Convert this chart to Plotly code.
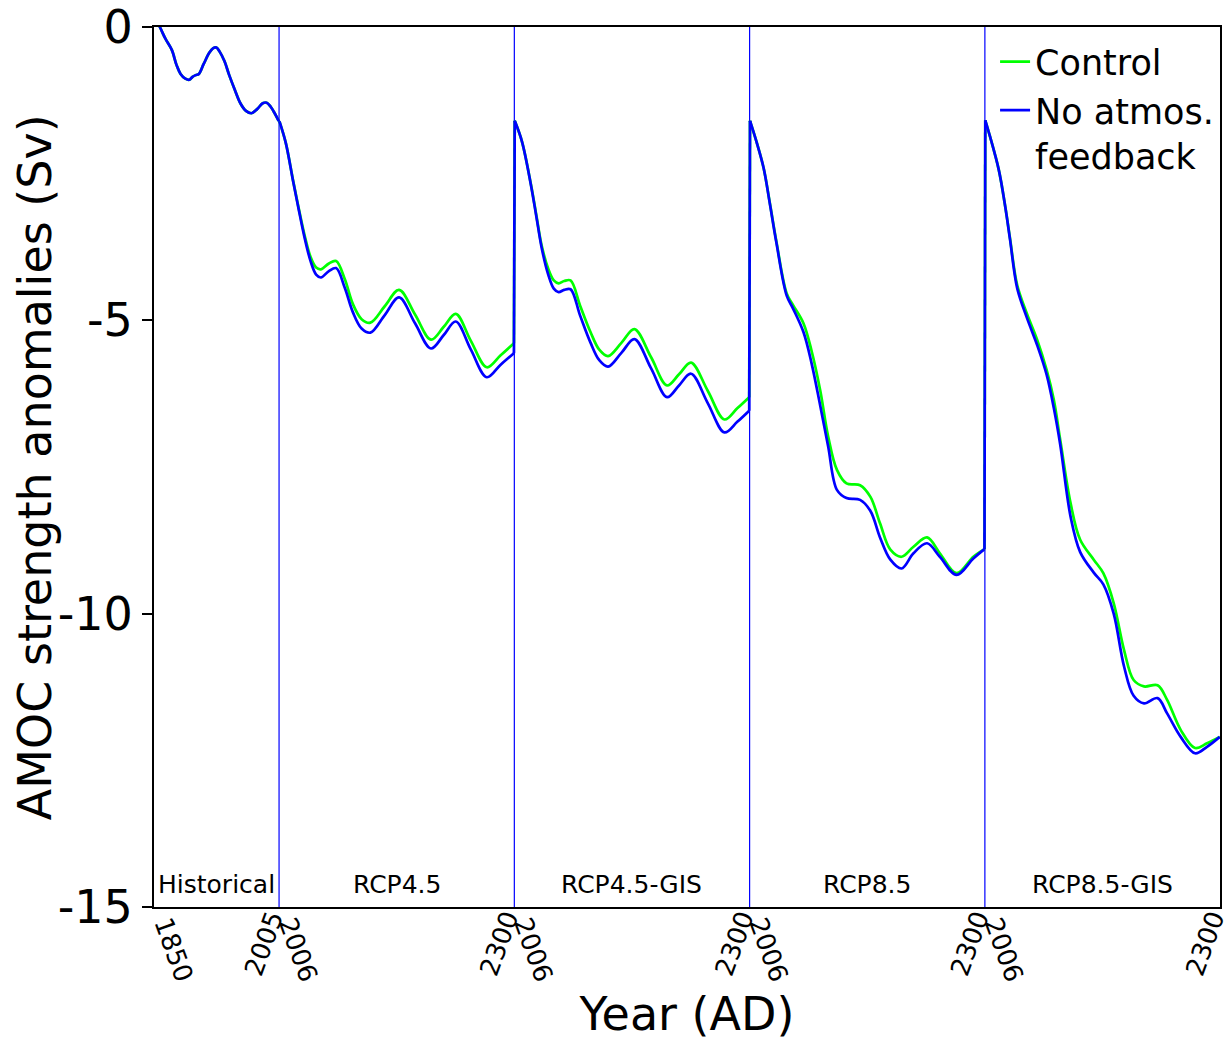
import plotly.graph_objects as go

# ---------------- data ----------------
segment_names = ["Historical", "RCP4.5", "RCP4.5-GIS", "RCP8.5", "RCP8.5-GIS"]
seg_start_years = [1850, 2006, 2006, 2006, 2006]
seg_end_years = [2005, 2300, 2300, 2300, 2300]

hist_years = [1850, 1856, 1863, 1871, 1877, 1882, 1888, 1893, 1897, 1901, 1905, 1911,
              1918, 1923, 1927, 1931, 1937, 1943, 1950, 1957, 1964, 1971, 1978, 1985,
              1990, 1995, 2000, 2005]
hist_control = [0.15, 0.0, -0.2, -0.39, -0.65, -0.80, -0.88, -0.90, -0.85, -0.82, -0.80, -0.63,
                -0.44, -0.36, -0.35, -0.42, -0.58, -0.82, -1.07, -1.30, -1.43, -1.47, -1.40, -1.30,
                -1.29, -1.36, -1.47, -1.60]
hist_noatm = [0.15, 0.0, -0.2, -0.39, -0.65, -0.80, -0.88, -0.90, -0.85, -0.82, -0.80, -0.63,
              -0.44, -0.36, -0.35, -0.42, -0.58, -0.82, -1.07, -1.30, -1.43, -1.47, -1.40, -1.30,
              -1.29, -1.36, -1.47, -1.60]

rcp45_years = [2006, 2014, 2023, 2030, 2037, 2045, 2052, 2058, 2068, 2077, 2088, 2098, 2109,
               2120, 2138, 2156, 2176, 2196, 2212, 2227, 2246, 2266, 2283, 2300]
rcp45_control = [-1.61, -1.98, -2.61, -3.08, -3.52, -3.92, -4.10, -4.13, -4.03, -3.99, -4.30,
                 -4.72, -4.98, -5.04, -4.76, -4.48, -4.90, -5.33, -5.11, -4.89, -5.35, -5.80,
                 -5.60, -5.39]
rcp45_noatm = [-1.61, -1.98, -2.62, -3.10, -3.56, -3.99, -4.22, -4.27, -4.16, -4.11, -4.45,
               -4.86, -5.14, -5.21, -4.91, -4.61, -5.05, -5.48, -5.25, -5.02, -5.50, -5.97,
               -5.76, -5.56]

rcp45gis_years = [2006, 2015, 2026, 2033, 2040, 2048, 2055, 2061, 2068, 2076, 2088, 2101, 2112,
                  2123, 2140, 2156, 2177, 2197, 2212, 2227, 2248, 2269, 2285, 2300]
rcp45gis_control = [-1.60, -1.95, -2.66, -3.20, -3.74, -4.12, -4.32, -4.37, -4.33, -4.32, -4.75,
                    -5.20, -5.50, -5.61, -5.38, -5.15, -5.63, -6.11, -5.92, -5.72, -6.20, -6.69,
                    -6.50, -6.31]
rcp45gis_noatm = [-1.60, -1.95, -2.67, -3.22, -3.78, -4.22, -4.46, -4.52, -4.48, -4.47, -4.92,
                  -5.38, -5.68, -5.79, -5.55, -5.32, -5.82, -6.31, -6.11, -5.91, -6.41, -6.91,
                  -6.73, -6.54]

rcp85_years = [2006, 2014, 2023, 2031, 2039, 2052, 2060, 2073, 2083, 2094, 2104, 2115, 2127,
               2144, 2157, 2169, 2182, 2196, 2211, 2228, 2244, 2265, 2286, 2300]
rcp85_control = [-1.60, -1.95, -2.40, -3.01, -3.65, -4.54, -4.74, -5.05, -5.51, -6.19, -6.98,
                 -7.55, -7.78, -7.81, -8.01, -8.46, -8.91, -9.03, -8.86, -8.70, -8.97, -9.31,
                 -9.03, -8.90]
rcp85_noatm = [-1.60, -1.95, -2.40, -3.02, -3.67, -4.58, -4.80, -5.20, -5.72, -6.45, -7.15,
               -7.89, -8.03, -8.06, -8.25, -8.70, -9.08, -9.23, -8.97, -8.80, -9.03, -9.34,
               -9.06, -8.90]

rcp85gis_years = [2006, 2012, 2023, 2031, 2037, 2046, 2058, 2071, 2083, 2092, 2100, 2113, 2125,
                  2142, 2154, 2167, 2180, 2192, 2205, 2222, 2234, 2251, 2269, 2284, 2300]
rcp85gis_control = [-1.59, -1.87, -2.44, -3.06, -3.60, -4.40, -4.88, -5.33, -5.85, -6.36, -7.04,
                    -8.12, -8.74, -9.08, -9.31, -9.82, -10.62, -11.13, -11.24, -11.22, -11.47,
                    -11.98, -12.29, -12.21, -12.10]
rcp85gis_noatm = [-1.59, -1.87, -2.44, -3.06, -3.62, -4.45, -4.95, -5.42, -5.93, -6.50, -7.12,
                  -8.35, -8.95, -9.30, -9.50, -10.00, -10.90, -11.40, -11.53, -11.44, -11.70,
                  -12.10, -12.38, -12.27, -12.10]

segments_years = [hist_years, rcp45_years, rcp45gis_years, rcp85_years, rcp85gis_years]
segments_control = [hist_control, rcp45_control, rcp45gis_control, rcp85_control, rcp85gis_control]
segments_noatm = [hist_noatm, rcp45_noatm, rcp45gis_noatm, rcp85_noatm, rcp85gis_noatm]

y_tick_vals = [0, -5, -10, -15]
y_tick_text = ["0", "-5", "-10", "-15"]
x_title = "Year (AD)"
y_title = "AMOC strength anomalies (Sv)"

series = [
    ("Control", "#00ff00", segments_control),
    ("No atmos.<br>feedback", "#0000ff", segments_noatm),
]

# ---------------- layout helpers ----------------
offsets = [0]
for k in range(1, len(seg_start_years)):
    offsets.append(offsets[-1] + (seg_end_years[k - 1] - seg_start_years[k - 1] + 1))
seg_end_pos = [offsets[k] + seg_end_years[k] - seg_start_years[k] for k in range(len(offsets))]
START_LABEL_SHIFT = 14   # nudges so rotated start/end labels sit either side of the boundary
END_LABEL_SHIFT = 9


def to_pos(k, years):
    return [offsets[k] + (y - seg_start_years[k]) for y in years]


fig = go.Figure()

for name, color, segs in series:
    for k, (yrs, vals) in enumerate(zip(segments_years, segs)):
        if k > 0:
            # jump from end of previous scenario to start of the next
            fig.add_trace(go.Scatter(
                x=[to_pos(k - 1, [segments_years[k - 1][-1]])[0], to_pos(k, [yrs[0]])[0]],
                y=[segs[k - 1][-1], vals[0]],
                mode="lines", line=dict(color=color, width=2.7),
                legendgroup=name, showlegend=False, hoverinfo="skip"))
        fig.add_trace(go.Scatter(
            x=to_pos(k, yrs), y=vals, mode="lines",
            line=dict(color=color, width=2.7, shape="spline", smoothing=1.0),
            name=name, legendgroup=name, showlegend=(k == 0)))

# thin vertical separators
shapes = []
for k in range(1, len(offsets)):
    xb = offsets[k] - 0.5
    shapes.append(dict(type="line", xref="x", yref="paper", x0=xb, x1=xb, y0=0, y1=1,
                       line=dict(color="#0000ff", width=1.2), layer="below"))

font_family = "DejaVu Sans"
annotations = []
for k, nm in enumerate(segment_names):
    annotations.append(dict(x=(offsets[k] + seg_end_pos[k]) / 2, y=-14.62, xref="x", yref="y",
                            text=nm, showarrow=False,
                            font=dict(size=25, color="black", family=font_family)))
# y-axis title
annotations.append(dict(x=-0.1115, y=0.5, xref="paper", yref="paper", text=y_title,
                        textangle=-90, showarrow=False, xanchor="center", yanchor="middle",
                        font=dict(size=46, color="black", family=font_family)))

x_range = [-1.3, seg_end_pos[-1] + 0.3]

fig.update_layout(
    width=1229, height=1041,
    margin=dict(l=154, r=9, t=27, b=134, autoexpand=False),
    paper_bgcolor="white", plot_bgcolor="white",
    font=dict(family=font_family, color="black"),
    shapes=shapes, annotations=annotations,
    showlegend=True,
    legend=dict(x=0.789, y=0.994, xanchor="left", yanchor="top", valign="top",
                font=dict(size=35, family=font_family, color="black"),
                bgcolor="rgba(0,0,0,0)", borderwidth=0, tracegroupgap=0),
    xaxis=dict(range=x_range, showgrid=False, zeroline=False, automargin=False,
               showline=True, linecolor="black", linewidth=2, mirror=True,
               tickmode="array", tickvals=[p + START_LABEL_SHIFT for p in offsets],
               ticktext=[str(y) for y in seg_start_years],
               tickangle=70, ticks="", ticklabelstandoff=-10, ticklabeloverflow="allow",
               tickfont=dict(size=26, family=font_family),
               title=dict(text=x_title, font=dict(size=46, family=font_family), standoff=14)),
    xaxis2=dict(range=x_range, overlaying="x", side="bottom", showgrid=False, zeroline=False,
                automargin=False, showline=False, tickmode="array",
                tickvals=[p - END_LABEL_SHIFT for p in seg_end_pos],
                ticktext=[str(y) for y in seg_end_years],
                tickangle=-70, ticks="", ticklabelstandoff=-10, ticklabeloverflow="allow",
                tickfont=dict(size=26, family=font_family)),
    yaxis=dict(range=[-15, 0], showgrid=False, zeroline=False, automargin=False,
               showline=True, linecolor="black", linewidth=2, mirror=True,
               tickmode="array", tickvals=y_tick_vals, ticktext=y_tick_text,
               ticks="outside", ticklen=10, tickwidth=2, tickcolor="black",
               tickfont=dict(size=46, family=font_family)),
)

# invisible trace so the end-year tick labels (second x axis) are drawn
fig.add_trace(go.Scatter(x=[seg_end_pos[-1]], y=[None], xaxis="x2", mode="lines",
                         showlegend=False, hoverinfo="skip"))

fig.write_html("out.html", config={"displayModeBar": False},
               post_script="document.body.style.margin='0';document.body.style.overflow='hidden';")
